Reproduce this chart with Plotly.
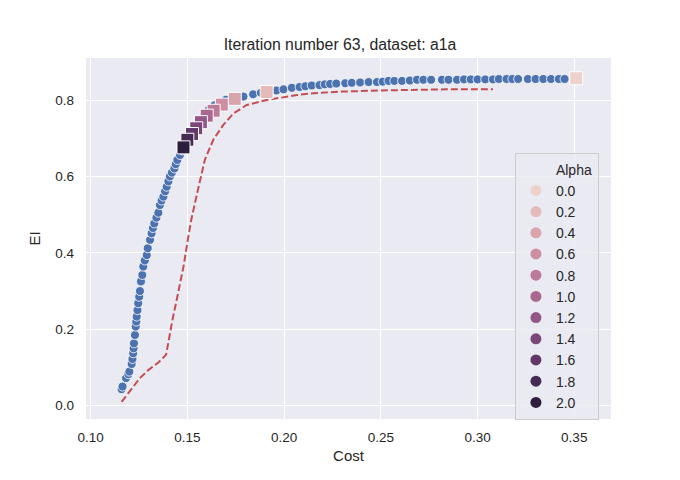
import numpy as np
import plotly.graph_objects as go

# sampled points (cost, EI)
cost_pts = [0.1160, 0.1165, 0.1183, 0.1195, 0.1200, 0.1212, 0.1216, 0.1220, 0.1222, 0.1224,
            0.1229, 0.1233, 0.1236, 0.1238, 0.1242, 0.1246, 0.1251, 0.1255, 0.1260, 0.1267,
            0.1272, 0.1280, 0.1290, 0.1295, 0.1307, 0.1315, 0.1322, 0.1329, 0.1340, 0.1350,
            0.1358, 0.1367, 0.1376, 0.1385, 0.1393, 0.1402, 0.1410, 0.1420, 0.1433, 0.1440,
            0.1448, 0.1462, 0.1475, 0.1490, 0.1505, 0.1520, 0.1540, 0.1560, 0.1585, 0.1610,
            0.1640, 0.1670, 0.1700, 0.1740, 0.1790, 0.1840, 0.1880, 0.1920, 0.1960, 0.1997,
            0.2040, 0.2080, 0.2110, 0.2143, 0.2183, 0.2210, 0.2238, 0.2270, 0.2316, 0.2350,
            0.2393, 0.2437, 0.2480, 0.2510, 0.2540, 0.2570, 0.2610, 0.2650, 0.2687, 0.2720,
            0.2760, 0.2816, 0.2850, 0.2894, 0.2930, 0.2965, 0.3000, 0.3040, 0.3080, 0.3110,
            0.3150, 0.3180, 0.3210, 0.3260, 0.3300, 0.3340, 0.3380, 0.3420, 0.3450]
ei_pts = [0.043, 0.050, 0.072, 0.082, 0.089, 0.109, 0.122, 0.137, 0.150, 0.163,
          0.185, 0.207, 0.220, 0.233, 0.250, 0.268, 0.285, 0.300, 0.325, 0.342,
          0.364, 0.380, 0.394, 0.412, 0.434, 0.451, 0.465, 0.477, 0.492, 0.505,
          0.525, 0.537, 0.547, 0.561, 0.573, 0.587, 0.600, 0.610, 0.621, 0.632,
          0.643, 0.656, 0.668, 0.683, 0.697, 0.712, 0.728, 0.744, 0.760, 0.774,
          0.786, 0.795, 0.801, 0.806, 0.809, 0.815, 0.819, 0.822, 0.825, 0.828,
          0.832, 0.834, 0.836, 0.838, 0.839, 0.841, 0.842, 0.843, 0.844, 0.845,
          0.846, 0.847, 0.847, 0.848, 0.850, 0.850, 0.850, 0.851, 0.853, 0.853,
          0.853, 0.853, 0.853, 0.853, 0.854, 0.854, 0.854, 0.854, 0.854, 0.855,
          0.855, 0.855, 0.855, 0.855, 0.855, 0.855, 0.855, 0.855, 0.855]

# selected points per alpha
alpha_vals = [0.0, 0.2, 0.4, 0.6, 0.8, 1.0, 1.2, 1.4, 1.6, 1.8, 2.0]
alpha_cost = [0.351, 0.191, 0.1745, 0.1678, 0.1636, 0.160, 0.157, 0.1546, 0.1524, 0.150, 0.148]
alpha_ei = [0.857, 0.821, 0.803, 0.788, 0.772, 0.759, 0.742, 0.726, 0.711, 0.696, 0.676]

# dashed reference curve
curve_cost = [0.1160, 0.1190, 0.1225, 0.1255, 0.1298, 0.1350, 0.1390, 0.1410, 0.1425, 0.1445,
              0.1465, 0.1480, 0.1505, 0.1520, 0.1548, 0.1570, 0.1590, 0.1634, 0.1686, 0.1738,
              0.1807, 0.1910, 0.1980, 0.2066, 0.2152, 0.2300, 0.2497, 0.2700, 0.2840, 0.3080]
curve_ei = [0.010, 0.030, 0.052, 0.072, 0.093, 0.113, 0.133, 0.190, 0.230, 0.277,
            0.330, 0.364, 0.442, 0.486, 0.550, 0.600, 0.643, 0.696, 0.735, 0.765,
            0.787, 0.800, 0.806, 0.813, 0.818, 0.822, 0.825, 0.827, 0.828, 0.828]

TEXT = "#262626"
FONT = "Liberation Sans, Arial, sans-serif"

# the page body has an 8px margin, so the figure is drawn a bit smaller
W, H = 664, 464


def cubehelix(x, start=0.0, rot=0.4, gamma=1.0, hue=0.8):
    # seaborn's default sequential palette
    xg = x ** gamma
    a = hue * xg * (1 - xg) / 2
    phi = 2 * np.pi * (start / 3 + rot * x)
    r = xg + a * (-0.14861 * np.cos(phi) + 1.78277 * np.sin(phi))
    g = xg + a * (-0.29227 * np.cos(phi) - 0.90649 * np.sin(phi))
    b = xg + a * (1.97294 * np.cos(phi))
    rgb = [int(round(255 * min(max(c, 0), 1))) for c in (r, g, b)]
    return "rgb(%d,%d,%d)" % tuple(rgb)


def alpha_color(v, light=0.85, dark=0.15):
    return cubehelix(light + (dark - light) * v / max(alpha_vals))


colors = [alpha_color(v) for v in alpha_vals]

fig = go.Figure()
fig.add_trace(go.Scatter(x=cost_pts, y=ei_pts, mode='markers', showlegend=False,
                         marker=dict(size=9, color='#4c72b0', line=dict(color='white', width=0.8))))
fig.add_trace(go.Scatter(x=curve_cost, y=curve_ei, mode='lines', showlegend=False,
                         line=dict(color='#c44e52', width=2, dash='7px,3px')))
fig.add_trace(go.Scatter(x=alpha_cost, y=alpha_ei, mode='markers', showlegend=False,
                         marker=dict(symbol='square', size=13, color=colors,
                                     line=dict(color='white', width=1))))

# legend entries (seaborn style, title as a blank entry)
fig.add_trace(go.Scatter(x=[None], y=[None], mode='markers', name='Alpha',
                         marker=dict(size=11, color='rgba(0,0,0,0)')))
for v, c in zip(alpha_vals, colors):
    fig.add_trace(go.Scatter(x=[None], y=[None], mode='markers', name='%.1f' % v,
                             marker=dict(size=11, color=c)))

fig.update_layout(
    width=W, height=H,
    margin=dict(l=78, r=W - 603, t=50, b=H - 411),
    paper_bgcolor='white', plot_bgcolor='#eaeaf2',
    font=dict(family=FONT, size=13.5, color=TEXT),
    title=dict(text='Iteration number 63, dataset: a1a', x=0.5, xanchor='center',
               y=1 - 36 / H, yanchor='middle', font=dict(size=15.8, color=TEXT)),
    legend=dict(x=0.817, y=0.738, xanchor='left', yanchor='top',
                bgcolor='rgba(234,234,242,0.8)', bordercolor='#cccccc', borderwidth=1,
                font=dict(size=14, color=TEXT)),
)
fig.update_xaxes(range=[0.0976, 0.369], tickvals=[0.10, 0.15, 0.20, 0.25, 0.30, 0.35],
                 tickformat='.2f', showgrid=True, gridcolor='white', gridwidth=1.2,
                 zeroline=False, showline=False, ticks='', ticklabelstandoff=8,
                 title=dict(text='Cost', font=dict(size=15), standoff=6))
fig.update_yaxes(range=[-0.035, 0.91], tickvals=[0.0, 0.2, 0.4, 0.6, 0.8],
                 tickformat='.1f', showgrid=True, gridcolor='white', gridwidth=1.2,
                 zeroline=False, showline=False, ticks='', ticklabelstandoff=11,
                 title=dict(text='EI', font=dict(size=15), standoff=10))

fig.write_html("out.html")
